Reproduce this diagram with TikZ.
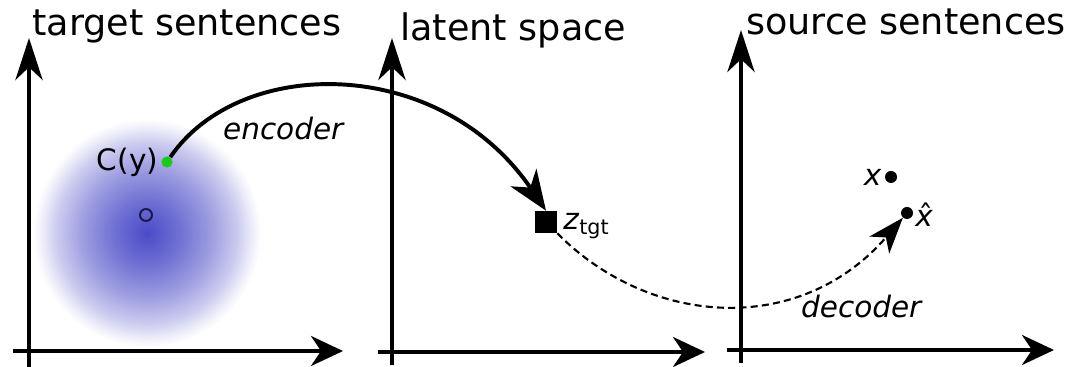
\documentclass[tikz,border=0pt]{standalone}
\usepackage{fontspec}
\setmainfont{DejaVu Sans}
\usetikzlibrary{arrows.meta, positioning}
\definecolor{blobblue}{RGB}{75,75,200}
\definecolor{dotgreen}{RGB}{30,200,30}
\definecolor{navy}{RGB}{25,25,80}
\pgfdeclareradialshading{blob}{\pgfpoint{0bp}{0bp}}{color(0bp)=(blobblue); color(7bp)=(blobblue!80); color(14bp)=(blobblue!55); color(20bp)=(blobblue!28); color(23bp)=(blobblue!10); color(25bp)=(white); color(50bp)=(white)}
\tikzset{
    vaxis/.style={-{Stealth[length=1.05cm, width=0.68cm, inset=0.32cm]}, line width=2.5pt},
    haxis/.style={-{Stealth[length=0.8cm, width=0.75cm, inset=0.25cm]}, line width=2.5pt},
    encarrow/.style={-{Stealth[length=1cm, width=0.78cm, inset=0.3cm]}, line width=2.8pt},
    decarrow/.style={-{Stealth[length=0.9cm, width=0.65cm, inset=0.25cm]}, line width=1.5pt, dash pattern=on 5pt off 3pt},
    title/.style={anchor=base west, inner sep=0pt, font=\fontsize{26}{30}\selectfont},
    lbl/.style={inner sep=0pt, font=\fontsize{21}{25}\selectfont},
    pt/.style={circle, fill=black, inner sep=0pt, minimum size=0.3cm}
}

\begin{document}
\begin{tikzpicture}[x=0.025cm, y=0.025cm]
    \useasboundingbox (0,0) rectangle (1073,367);
    % Облако вокруг цели
    \shade[shading=blob] (147,134) circle (114);
    % Оси
    \draw[vaxis] (29,0) -- (29,329); \draw[haxis] (13,16) -- (343,16);
    \draw[vaxis] (392,2) -- (392,329); \draw[haxis] (378,15) -- (705,15);
    \draw[vaxis] (741,4) -- (741,337); \draw[haxis] (727,17) -- (1054,17);
    \node[title] (ttgt) at (32,331) {target sentences};
    \node[title] (tlat) at (400,326) {latent space};
    \node[title] (tsrc) at (746,332) {source sentences};

    % Точки
    \node[circle, draw=navy, line width=1.4pt, inner sep=0pt, minimum size=0.3cm] (mu) at (146,152) {};
    \node[pt, fill=dotgreen, minimum size=0.28cm] (cy) at (167,205) {};
    \node[lbl, left=2pt of cy] (cylbl) {C(y)};
    \node[fill=black, inner sep=0pt, minimum size=0.55cm] (ztgt) at (546,145) {};
    \node[lbl, anchor=base west] (zlbl) at (563,137) {\textit{z}\textsubscript{tgt}};
    \node[pt] (xpt) at (891,190) {};
    \node[lbl, left=2pt of xpt] (xlbl) {\textit{x}};
    \node[pt] (xhat) at (907,154) {};
    \node[lbl, anchor=base west] (xhatlbl) at (915,140) {\^{\textit{x}}};

    % Кодер и декодер
    \draw[encarrow] (cy) .. controls (240,312) and (440,312) .. (ztgt.north);
    \node[lbl] (enclbl) at (284,239) {\textit{encoder}};
    \draw[decarrow] (ztgt.south east) .. controls (650,40) and (800,30) .. (xhat);
    \node[lbl] (declbl) at (862,61) {\textit{decoder}};
\end{tikzpicture}
\end{document}
